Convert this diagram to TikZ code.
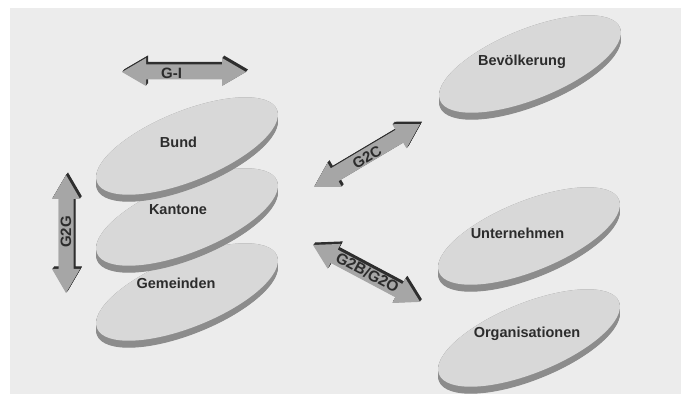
\documentclass[tikz,border=0pt]{standalone}
\usepackage{fontspec}
\setmainfont{Liberation Sans}
\usetikzlibrary{calc}

\definecolor{bgcol}{HTML}{ECECEC}
\definecolor{discface}{HTML}{D8D8D8}
\definecolor{discside}{HTML}{8C8C8C}
\definecolor{arrowfill}{HTML}{A6A6A6}
\definecolor{arrowshade}{HTML}{2E2E2E}
\definecolor{labelcol}{HTML}{2C2C2C}

% outline of a double block arrow lying along the x axis, tail tip at the origin
\newcommand\arrowoutline[1]{(0,0) -- (24,14) -- (24,7.5) -- (#1-24,7.5) -- (#1-24,14) -- (#1,0)
  -- (#1-24,-14) -- (#1-24,-7.5) -- (24,-7.5) -- (24,-14) -- cycle}

% #1 tail coordinate, #2 direction angle, #3 length
\newcommand\blockarrow[3]{%
  \foreach \s in {0.5,1,...,2.5}
    \fill[arrowshade, shift={(#1)}, shift={(0.8*\s,\s)}, rotate=#2] \arrowoutline{#3};
  \fill[arrowfill, shift={(#1)}, rotate=#2] \arrowoutline{#3};
}

% tilted disc with a thin rim, centred on coordinate #1
\newcommand\disc[1]{%
  \foreach \d in {0,0.5,...,7}
    \fill[discside, shift={(#1)}, shift={(0,-\d)}, rotate=22] (0,0) ellipse [x radius=97, y radius=35];
  \fill[discface, shift={(#1)}, rotate=22] (0,0) ellipse [x radius=97, y radius=35];
}

\tikzset{
  disclabel/.style={text=labelcol, font=\bfseries\fontsize{14.5}{17}\selectfont, inner sep=0pt},
  arrowlabel/.style={text=labelcol, font=\bfseries\fontsize{15}{17}\selectfont, inner sep=0pt},
}

\begin{document}
\begin{tikzpicture}[x=1pt, y=1pt]
  \fill[white] (0,0) rectangle (681,394);
  \useasboundingbox (0,0) rectangle (681,394);
  \fill[bgcol] (10,0) rectangle (681,386);

  % disc centres
  \coordinate (bund) at (187,248);
  \coordinate (kant) at (187,177);
  \coordinate (gem)  at (187,102);
  \coordinate (bev)  at (530,330);
  \coordinate (unt)  at (529,158);
  \coordinate (org)  at (529,56);

  % government levels, lowest first
  \disc{gem}
  \node[disclabel] (lgem) at (176,111) {Gemeinden};
  \disc{kant}
  \node[disclabel] (lkant) at (178,184) {Kantone};
  \disc{bund}
  \node[disclabel] (lbund) at (178.5,252) {Bund};

  % partners
  \disc{bev}
  \node[disclabel] (lbev) at (522,332) {Bevölkerung};
  \disc{org}
  \node[disclabel] (lorg) at (527,60) {Organisationen};
  \disc{unt}
  \node[disclabel] (lunt) at (517.5,161) {Unternehmen};

  % arrow ends
  \coordinate (gi-a)  at (122,322);
  \coordinate (g2g-a) at (66,101);
  \coordinate (g2c-a) at (314,207);
  \coordinate (g2b-a) at (313,149);

  \blockarrow{gi-a}{0}{124}
  \node[arrowlabel] (lgi) at (171.5,320.5) {G-I};

  \blockarrow{g2g-a}{90}{118}
  \node[arrowlabel, rotate=90] (lg2g) at (66,162) {G2G};

  \blockarrow{g2c-a}{30.7}{123.3}
  \node[arrowlabel, rotate=30.7] (lg2c) at (367,237) {G2C};

  \blockarrow{g2b-a}{-28}{121.2}
  \node[arrowlabel, rotate=-28, font=\bfseries\fontsize{15.5}{17}\selectfont] (lg2b) at (367.5,121.5) {G2B/G2O};
\end{tikzpicture}
\end{document}
